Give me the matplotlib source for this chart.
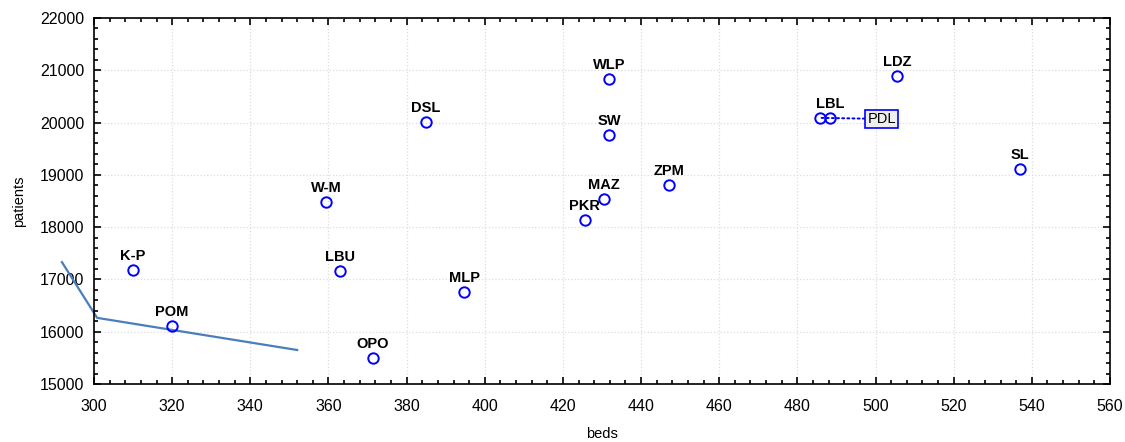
import matplotlib
matplotlib.use("Agg")
import matplotlib.pyplot as plt
from matplotlib.ticker import MultipleLocator

plt.rcParams['font.family'] = ['Liberation Sans', 'DejaVu Sans']

# Data
labels = ["K-P", "POM", "W-M", "LBU", "OPO", "DSL", "MLP", "PKR", "MAZ",
          "WLP", "SW", "ZPM", "PDL", "LBL", "LDZ", "SL"]
beds = [310, 320, 359.4, 363, 371.4, 385, 394.7, 425.6, 430.5,
        431.8, 431.8, 447.1, 485.8, 488.3, 505.5, 537]
patients = [17180, 16110, 18480, 17160, 15500, 20010, 16760, 18140, 18540,
            20830, 19760, 18810, 20090, 20090, 20890, 19110]

# Fitted line (drawn partially outside axes in the original)
line_x = [291.8, 300.8, 352]
line_y = [17330, 16265, 15650]

boxed_label = "PDL"
boxed_pos = (501.6, 20070)

fig = plt.figure(figsize=(11.25, 4.42), dpi=100)
ax = fig.add_axes([94/1125, 1 - 384/442, (1110-94)/1125, (384-18)/442])

ax.plot(beds, patients, linestyle='none', marker='o', markersize=7.5,
        markerfacecolor='none', markeredgecolor='#0000ff', markeredgewidth=1.4, zorder=3)

ax.plot(line_x, line_y, color='#4a7ebb', linewidth=1.6, clip_on=False, zorder=2)

for lab, x, y in zip(labels, beds, patients):
    if lab == boxed_label:
        ax.annotate(lab, xy=(x, y), xytext=boxed_pos, textcoords='data',
                    ha='center', va='center', fontsize=10.5,
                    bbox=dict(boxstyle='square,pad=0.15', fc='#eeeeee', ec='#0000ff', lw=1.2),
                    arrowprops=dict(arrowstyle='-', color='#0000ff', linestyle=':', lw=1.4,
                                    shrinkA=0, shrinkB=0), zorder=4)
    else:
        ax.annotate(lab, xy=(x, y), xytext=(0, 5), textcoords='offset points',
                    ha='center', va='bottom', fontsize=10.5, fontweight='bold')

ax.set_xlim(300, 560)
ax.set_ylim(15000, 22000)
ax.xaxis.set_major_locator(MultipleLocator(20))
ax.xaxis.set_minor_locator(MultipleLocator(4))
ax.yaxis.set_major_locator(MultipleLocator(1000))
ax.yaxis.set_minor_locator(MultipleLocator(200))
ax.tick_params(which='both', direction='in', top=True, right=True, labelsize=11.5, width=1.2)
ax.tick_params(which='major', length=5)
ax.tick_params(axis='x', which='major', pad=11)
ax.tick_params(axis='y', which='major', pad=7)
ax.tick_params(which='minor', length=3)
ax.grid(True, which='major', linestyle=':', color='#dddddd', linewidth=0.9)
ax.set_axisbelow(True)
for s in ax.spines.values():
    s.set_linewidth(1.2)

ax.set_xlabel("beds", fontsize=10.5, labelpad=9)
ax.set_ylabel("patients", fontsize=10.5, labelpad=10)

fig.savefig("out.png", dpi=100)
